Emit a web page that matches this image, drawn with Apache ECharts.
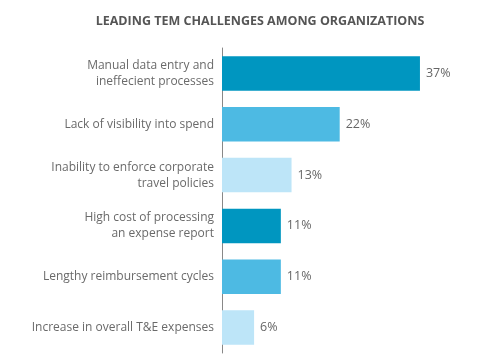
<!DOCTYPE html>
<html><head><meta charset="utf-8">
<script src="https://cdn.jsdelivr.net/npm/echarts@6/dist/echarts.min.js"></script>
<style>html,body{margin:0;padding:0;background:#fff}#c{width:478px;height:363px}</style>
</head><body><div id="c"></div>
<script>
const categories = [
  "Manual data entry and\nineffecient processes",
  "Lack of visibility into spend",
  "Inability to enforce corporate\ntravel policies",
  "High cost of processing\nan expense report",
  "Lengthy reimbursement cycles",
  "Increase in overall T&E expenses"
];
const values = [37, 22, 13, 11, 11, 6];
const colors = ["#0096c0", "#4dbae3", "#bde5f8", "#0096c0", "#4dbae3", "#bde5f8"];

const chart = echarts.init(document.getElementById('c'), null, {renderer: 'canvas'});
chart.setOption({
  animation: false,
  title: {
    text: "LEADING TEM CHALLENGES AMONG ORGANIZATIONS",
    left: 255, top: 10, textAlign: 'center',
    textStyle: {fontFamily: 'Open Sans', fontSize: 12.5, fontWeight: 'bold', color: '#555'}
  },
  grid: {left: 222, right: 42, top: 48, bottom: 10, containLabel: false},
  xAxis: {type: 'value', min: 0, max: 40, show: false},
  yAxis: {
    type: 'category', inverse: true, data: categories,
    axisLine: {show: true, lineStyle: {color: '#888', width: 1}},
    axisTick: {show: false},
    axisLabel: {fontFamily: 'Open Sans', fontSize: 12, color: '#6a6a6a', margin: 8, lineHeight: 16, align: 'right'}
  },
  series: [{
    type: 'bar',
    data: values.map((v, i) => ({value: v, itemStyle: {color: colors[i]}})),
    barCategoryGap: '32%',
    label: {show: true, position: 'right', distance: 6, formatter: '{c}%', fontFamily: 'Open Sans', fontSize: 12.5, color: '#666'}
  }]
});
</script></body></html>
